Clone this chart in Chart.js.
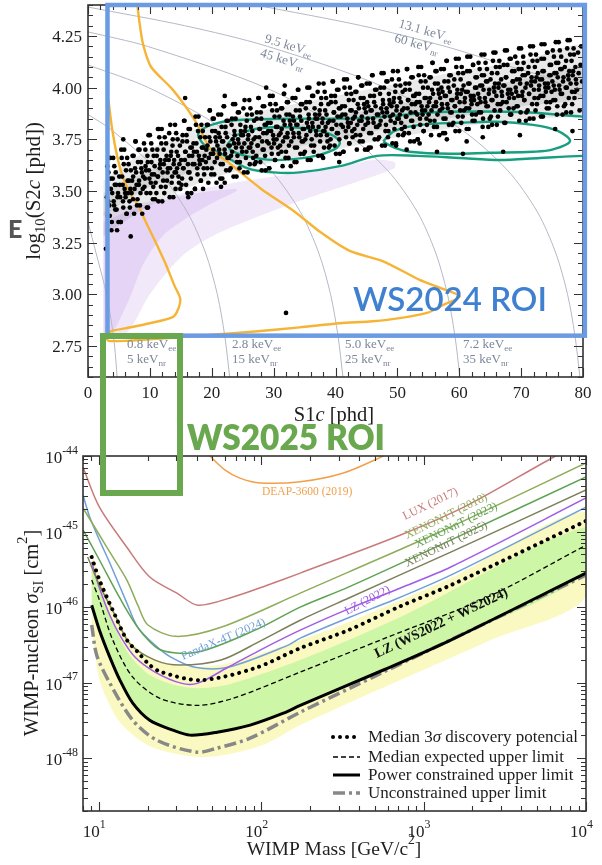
<!DOCTYPE html>
<html>
<head>
<meta charset="utf-8">
<script src="https://cdn.jsdelivr.net/npm/chart.js"></script>
<style>
  html, body { margin: 0; padding: 0; background: #fff; }
  #wrap { position: relative; width: 602px; height: 865px; overflow: hidden; }
  canvas { position: absolute; left: 0; }
  #roi25box { position: absolute; left: 100px; top: 333px; width: 83px; height: 163px;
              border: 6px solid #6aa84f; box-sizing: border-box; }
  .roi { position: absolute; font-family: Lato, "Open Sans", sans-serif; line-height: 1;
         white-space: nowrap; transform-origin: 0 0; }
  #roi24txt { left: 353px; top: 282px; font-size: 33.5px; font-weight: 600; color: #3f80d0; }
  #roi25txt { left: 187px; top: 419px; font-size: 35px; font-weight: 800; color: #6aa84f; }
  #edgeE { position: absolute; left: 8px; top: 216px; font-family: Lato, sans-serif; font-weight: 900;
           font-size: 25px; line-height: 1; color: #555; }
</style>
</head>
<body>
<div id="wrap">
  <canvas id="cTop" width="602" height="430" style="top:0"></canvas>
  <canvas id="cBottom" width="602" height="435" style="top:430px"></canvas>
  <div id="edgeE">E</div>
  <div id="roi25box"></div>
  <div class="roi" id="roi24txt">WS2024 ROI</div>
  <div class="roi" id="roi25txt">WS2025 ROI</div>
</div>
<script>
// ---------------- S1c / log10(S2c) panel ----------------
const s1Ticks = [0, 10, 20, 30, 40, 50, 60, 70, 80];
const logS2Ticks = [2.75, 3.00, 3.25, 3.50, 3.75, 4.00, 4.25];

// search window drawn on the S1c / log10 S2c plane
const roiS1 = [3.15, 80.3];
const roiLogS2 = [2.80, 4.40];

// electron-recoil band (outer and inner contours), upper and lower edges
const erOuterUpper = [[2.5,3.55],[7,3.65],[14,3.76],[21.5,3.84],[30,3.9],[40,3.96],[50,4.02],[60,4.08],[70,4.13],[81,4.2]];
const erOuterLower = [[2.5,3.28],[10,3.43],[20,3.56],[30,3.64],[40,3.70],[50,3.76],[60,3.81],[70,3.85],[81,3.89]];
const erInnerUpper = [[2.5,3.49],[10,3.6],[20,3.71],[30,3.79],[40,3.86],[50,3.92],[60,3.98],[70,4.04],[81,4.1]];
const erInnerLower = [[2.5,3.38],[10,3.52],[20,3.62],[30,3.69],[40,3.75],[50,3.81],[60,3.86],[70,3.91],[81,3.96]];

// nuclear-recoil band (outer and inner)
const nrOuterUpper = [[2.5,3.40],[10,3.45],[20,3.52],[30,3.57],[40,3.61],[46,3.65],[49.5,3.64]];
const nrOuterLower = [[2.5,2.79],[5,2.79],[7,2.84],[10,3.0],[15,3.18],[20,3.28],[27,3.37],[35,3.46],[42,3.53],[49.5,3.61]];
const nrInnerUpper = [[2.5,3.35],[8,3.42],[14,3.47],[20,3.5],[24,3.51]];
const nrInnerLower = [[2.5,2.8],[3.5,2.8],[5,2.87],[7,3.0],[9,3.15],[12,3.28],[16,3.37],[20,3.44],[24,3.5]];

// constant-energy guide lines (S1c, log10 S2c)
const energyLines = {
  e08:  [[4.7,2.6],[4.3,2.75],[3.6,2.9],[2.6,3.05],[1.3,3.2],[0,3.35]],
  e28:  [[22.9,2.6],[22.1,2.8],[20.9,3.0],[19.0,3.2],[16.0,3.4],[11.2,3.6],[3.6,3.8],[0,3.87]],
  e50:  [[41.2,2.6],[40.4,2.8],[39.2,3.0],[37.3,3.2],[34.3,3.4],[29.5,3.6],[21.9,3.8],[9.8,4.0],[0,4.11]],
  e72:  [[60.1,2.6],[59.3,2.8],[58.1,3.0],[56.2,3.2],[53.2,3.4],[48.4,3.6],[40.8,3.8],[28.7,4.0],[9.6,4.2],[0,4.27]],
  e95:  [[79.5,2.6],[78.7,2.8],[77.5,3.0],[75.6,3.2],[72.6,3.4],[67.8,3.6],[60.2,3.8],[48.1,4.0],[29.0,4.2],[15.6,4.3],[0,4.39]],
  e131: [[80.5,3.95],[74,4.05],[68.5,4.1],[57.7,4.2],[44.2,4.3],[27.1,4.4]]
};

// background-model contour (amber)
const amberContour = [[3.3,3.94],[3.9,3.80],[4.7,3.67],[5.6,3.57],[6.8,3.49],[8.1,3.43],[9.5,3.34],[10.8,3.26],[12.5,3.15],[14.0,3.04],[14.9,2.98],[14.6,2.93],[13.7,2.89],[10,2.86],[6,2.835],[3.6,2.82],[3.0,2.79],[3.3,2.775],[6,2.775],[13.7,2.79],[20,2.805],[27,2.82],[34.2,2.84],[40.7,2.86],[46,2.87],[50.4,2.885],[54.8,2.91],[57.5,2.95],[60.1,2.99],[57,3.03],[53.6,3.07],[47.7,3.16],[42.3,3.21],[37.6,3.30],[33.4,3.40],[28,3.51],[22.6,3.64],[19.9,3.70],[18.9,3.75],[17.3,3.84],[15.5,3.92],[13.4,4.0],[10.2,4.10],[8.9,4.21],[8.3,4.32],[7.8,4.45]];

// signal-like contours (teal)
const tealOuter = [[82,3.86],[80,3.86],[71.4,3.88],[63,3.885],[55.3,3.88],[48,3.86],[42,3.85],[32.3,3.85],[25,3.845],[21,3.83],[18.5,3.80],[17.8,3.77],[18.9,3.72],[21.5,3.68],[25.8,3.61],[30,3.59],[34.2,3.59],[40.7,3.62],[46.7,3.67],[53.2,3.67],[60,3.66],[66.6,3.65],[73,3.66],[80,3.67],[82,3.67]];
const tealInnerLeft = [[22.6,3.73],[24,3.77],[27,3.80],[31,3.81],[36,3.80],[39.5,3.77],[40.7,3.73],[39,3.69],[35,3.66],[30,3.65],[25.5,3.67],[23,3.70],[22.6,3.73]];
const tealInnerRight = [[47.7,3.74],[49.5,3.79],[53.6,3.82],[60,3.83],[66,3.835],[71.9,3.82],[76,3.79],[77.9,3.74],[75,3.70],[71.9,3.69],[65,3.685],[58.5,3.68],[52,3.69],[49.5,3.71],[47.7,3.74]];

// observed events (S1c [phd], log10 S2c [phd])
const events = [
[3.05,3.47],[3.2,3.38],[3.3,3.59],[3.45,3.43],[3.6,3.66],[3.7,3.51],[3.85,3.35],[4,3.56],[4.15,3.45],[4.25,3.62],[4.4,3.41],[4.55,3.53],[4.7,3.31],[4.85,3.49],
[5.05,3.57],[5.2,3.47],[5.3,3.35],[5.45,3.66],[5.6,3.53],[5.7,3.42],[5.85,3.7],[6,3.49],[6.15,3.6],[6.25,3.39],[6.4,3.55],[6.55,3.63],[6.7,3.45],[6.85,3.51],
[7.05,3.49],[7.2,3.67],[7.3,3.57],[7.45,3.39],[7.6,3.61],[7.7,3.74],[7.85,3.53],[8,3.46],[8.15,3.7],[8.25,3.55],[8.4,3.43],[8.55,3.64],[8.7,3.59],[8.85,3.51],
[9.05,3.73],[9.2,3.56],[9.3,3.62],[9.45,3.49],[9.6,3.67],[9.7,3.42],[9.85,3.6],[10,3.77],[10.15,3.54],[10.25,3.64],[10.4,3.7],[10.55,3.52],[10.7,3.58],[10.85,3.46],
[11.05,3.49],[11.2,3.7],[11.3,3.57],[11.45,3.8],[11.6,3.61],[11.7,3.65],[11.85,3.73],[12,3.45],[12.15,3.55],[12.25,3.63],[12.4,3.76],[12.55,3.52],[12.7,3.67],[12.85,3.59],
[13.05,3.65],[13.2,3.47],[13.3,3.82],[13.45,3.69],[13.6,3.57],[13.7,3.75],[13.85,3.63],[14,3.59],[14.15,3.51],[14.25,3.78],[14.4,3.61],[14.55,3.67],[14.7,3.54],[14.85,3.72],
[15.05,3.65],[15.2,3.56],[15.3,3.77],[15.45,3.61],[15.6,3.84],[15.7,3.69],[15.85,3.53],[16,3.74],[16.15,3.63],[16.25,3.8],[16.4,3.59],[16.55,3.71],[16.7,3.49],[16.85,3.67],
[17.05,3.73],[17.2,3.63],[17.3,3.51],[17.45,3.82],[17.6,3.69],[17.7,3.58],[17.85,3.86],[18,3.65],[18.15,3.76],[18.25,3.55],[18.4,3.71],[18.55,3.79],[18.7,3.61],[18.85,3.67],
[19.05,3.64],[19.2,3.82],[19.3,3.72],[19.45,3.54],[19.6,3.76],[19.7,3.89],[19.85,3.68],[20,3.61],[20.15,3.85],[20.25,3.7],[20.4,3.58],[20.55,3.79],[20.7,3.74],[20.85,3.66],
[21.05,3.87],[21.2,3.7],[21.3,3.76],[21.45,3.63],[21.6,3.81],[21.7,3.56],[21.85,3.74],[22,3.91],[22.15,3.68],[22.25,3.78],[22.4,3.84],[22.55,3.66],[22.7,3.72],[22.85,3.6],
[23.05,3.61],[23.2,3.82],[23.3,3.69],[23.45,3.92],[23.6,3.73],[23.7,3.77],[23.85,3.85],[24,3.57],[24.15,3.67],[24.25,3.75],[24.4,3.88],[24.55,3.64],[24.7,3.79],[24.85,3.71],
[25.05,3.77],[25.2,3.59],[25.3,3.94],[25.45,3.81],[25.6,3.69],[25.7,3.87],[25.85,3.75],[26,3.71],[26.15,3.63],[26.25,3.9],[26.4,3.73],[26.55,3.79],[26.7,3.66],[26.85,3.84],
[27.05,3.76],[27.2,3.67],[27.3,3.88],[27.45,3.72],[27.6,3.95],[27.7,3.8],[27.85,3.64],[28,3.85],[28.15,3.74],[28.25,3.91],[28.4,3.7],[28.55,3.82],[28.7,3.6],[28.85,3.78],
[29.05,3.83],[29.2,3.73],[29.3,3.61],[29.45,3.92],[29.6,3.79],[29.7,3.68],[29.85,3.96],[30,3.75],[30.15,3.86],[30.25,3.65],[30.4,3.81],[30.55,3.89],[30.7,3.71],[30.85,3.77],
[31.05,3.72],[31.2,3.9],[31.3,3.8],[31.45,3.62],[31.6,3.84],[31.7,3.97],[31.85,3.76],[32,3.69],[32.15,3.93],[32.25,3.78],[32.4,3.66],[32.55,3.87],[32.7,3.82],[32.85,3.74],
[33.05,3.95],[33.2,3.78],[33.3,3.84],[33.45,3.71],[33.6,3.89],[33.7,3.64],[33.85,3.82],[34,3.99],[34.15,3.76],[34.25,3.86],[34.4,3.92],[34.55,3.74],[34.7,3.8],[34.85,3.68],
[35.05,3.69],[35.2,3.9],[35.3,3.77],[35.45,4],[35.6,3.81],[35.7,3.85],[35.85,3.93],[36,3.65],[36.15,3.75],[36.25,3.83],[36.4,3.96],[36.55,3.72],[36.7,3.87],[36.85,3.79],
[37.05,3.85],[37.2,3.67],[37.3,4.02],[37.45,3.89],[37.6,3.77],[37.7,3.95],[37.85,3.83],[38,3.79],[38.15,3.71],[38.25,3.98],[38.4,3.81],[38.55,3.87],[38.7,3.74],[38.85,3.92],
[39.05,3.84],[39.2,3.75],[39.3,3.96],[39.45,3.8],[39.6,4.03],[39.7,3.88],[39.85,3.72],[40,3.93],[40.15,3.82],[40.25,3.99],[40.4,3.78],[40.55,3.9],[40.7,3.68],[40.85,3.86],
[41.05,3.91],[41.2,3.81],[41.3,3.69],[41.45,4],[41.6,3.87],[41.7,3.76],[41.85,4.04],[42,3.83],[42.15,3.94],[42.25,3.73],[42.4,3.89],[42.55,3.97],[42.7,3.79],[42.85,3.85],
[43.05,3.8],[43.2,3.98],[43.3,3.88],[43.45,3.7],[43.6,3.92],[43.7,4.05],[43.85,3.84],[44,3.77],[44.15,4.01],[44.25,3.86],[44.4,3.74],[44.55,3.95],[44.7,3.9],[44.85,3.82],
[45.05,4.02],[45.2,3.85],[45.3,3.91],[45.45,3.78],[45.6,3.96],[45.7,3.71],[45.85,3.89],[46,4.06],[46.15,3.83],[46.25,3.93],[46.4,3.99],[46.55,3.81],[46.7,3.87],[46.85,3.75],
[47.05,3.76],[47.2,3.97],[47.3,3.84],[47.45,4.07],[47.6,3.88],[47.7,3.92],[47.85,4],[48,3.72],[48.15,3.82],[48.25,3.9],[48.4,4.03],[48.55,3.79],[48.7,3.94],[48.85,3.86],
[49.05,3.91],[49.2,3.73],[49.3,4.08],[49.45,3.95],[49.6,3.83],[49.7,4.01],[49.85,3.89],[50,3.85],[50.15,3.77],[50.25,4.04],[50.4,3.87],[50.55,3.93],[50.7,3.8],[50.85,3.98],
[51.05,3.9],[51.2,3.81],[51.3,4.02],[51.45,3.86],[51.6,4.09],[51.7,3.94],[51.85,3.78],[52,3.99],[52.15,3.88],[52.25,4.05],[52.4,3.84],[52.55,3.96],[52.7,3.74],[52.85,3.92],
[53.05,3.97],[53.2,3.87],[53.3,3.75],[53.45,4.06],[53.6,3.93],[53.7,3.82],[53.85,4.1],[54,3.89],[54.15,4],[54.25,3.79],[54.4,3.95],[54.55,4.03],[54.7,3.85],[54.85,3.91],
[55.05,3.87],[55.2,4.05],[55.3,3.95],[55.45,3.77],[55.6,3.99],[55.7,4.12],[55.85,3.91],[56,3.84],[56.15,4.08],[56.25,3.93],[56.4,3.81],[56.55,4.02],[56.7,3.97],[56.85,3.89],
[57.05,4.09],[57.2,3.92],[57.3,3.98],[57.45,3.85],[57.6,4.03],[57.7,3.78],[57.85,3.96],[58,4.13],[58.15,3.9],[58.25,4],[58.4,4.06],[58.55,3.88],[58.7,3.94],[58.85,3.82],
[59.05,3.83],[59.2,4.04],[59.3,3.91],[59.45,4.14],[59.6,3.95],[59.7,3.99],[59.85,4.07],[60,3.79],[60.15,3.89],[60.25,3.97],[60.4,4.1],[60.55,3.86],[60.7,4.01],[60.85,3.93],
[61.05,3.98],[61.2,3.8],[61.3,4.15],[61.45,4.02],[61.6,3.9],[61.7,4.08],[61.85,3.96],[62,3.92],[62.15,3.84],[62.25,4.11],[62.4,3.94],[62.55,4],[62.7,3.87],[62.85,4.05],
[63.05,3.97],[63.2,3.88],[63.3,4.09],[63.45,3.93],[63.6,4.16],[63.7,4.01],[63.85,3.85],[64,4.06],[64.15,3.95],[64.25,4.12],[64.4,3.91],[64.55,4.03],[64.7,3.81],[64.85,3.99],
[65.05,4.04],[65.2,3.94],[65.3,3.82],[65.45,4.13],[65.6,4],[65.7,3.89],[65.85,4.17],[66,3.96],[66.15,4.07],[66.25,3.86],[66.4,4.02],[66.55,4.1],[66.7,3.92],[66.85,3.98],
[67.05,3.93],[67.2,4.11],[67.3,4.01],[67.45,3.83],[67.6,4.05],[67.7,4.18],[67.85,3.97],[68,3.9],[68.15,4.14],[68.25,3.99],[68.4,3.87],[68.55,4.08],[68.7,4.03],[68.85,3.95],
[69.05,4.15],[69.2,3.98],[69.3,4.04],[69.45,3.91],[69.6,4.09],[69.7,3.84],[69.85,4.02],[70,4.19],[70.15,3.96],[70.25,4.06],[70.4,4.12],[70.55,3.94],[70.7,4],[70.85,3.88],
[71.05,3.89],[71.2,4.1],[71.3,3.97],[71.45,4.2],[71.6,4.01],[71.7,4.05],[71.85,4.13],[72,3.85],[72.15,3.95],[72.25,4.03],[72.4,4.16],[72.55,3.92],[72.7,4.07],[72.85,3.99],
[73.05,4.04],[73.2,3.86],[73.3,4.21],[73.45,4.08],[73.6,3.96],[73.7,4.14],[73.85,4.02],[74,3.98],[74.15,3.9],[74.25,4.17],[74.4,4],[74.55,4.06],[74.7,3.93],[74.85,4.11],
[75.05,4.03],[75.2,3.94],[75.3,4.15],[75.45,3.99],[75.6,4.22],[75.7,4.07],[75.85,3.91],[76,4.12],[76.15,4.01],[76.25,4.18],[76.4,3.97],[76.55,4.09],[76.7,3.87],[76.85,4.05],
[77.05,4.1],[77.2,4],[77.3,3.88],[77.45,4.19],[77.6,4.06],[77.7,3.95],[77.85,4.23],[78,4.02],[78.15,4.13],[78.25,3.92],[78.4,4.08],[78.55,4.16],[78.7,3.98],[78.85,4.04],
[79.05,3.99],[79.2,4.17],[79.3,4.07],[79.45,3.89],[79.6,4.11],[79.7,4.2],[79.85,4.03],
[3.12,3.62],[3.27,3.45],[3.38,3.51],[3.52,3.38],[3.66,3.56],[3.78,3.31],[3.92,3.49],[4.07,3.66],[4.22,3.43],[4.33,3.53],[4.48,3.59],[4.62,3.41],[4.77,3.47],[4.92,3.35],
[5.12,3.53],[5.27,3.35],[5.38,3.7],[5.52,3.57],[5.66,3.45],[5.78,3.63],[5.92,3.51],[6.07,3.47],[6.22,3.39],[6.33,3.66],[6.48,3.49],[6.62,3.55],[6.77,3.42],[6.92,3.6],
[7.12,3.55],[7.27,3.46],[7.38,3.67],[7.52,3.51],[7.66,3.74],[7.78,3.59],[7.92,3.43],[8.07,3.64],[8.22,3.53],[8.33,3.7],[8.48,3.49],[8.62,3.61],[8.77,3.39],[8.92,3.57],
[9.12,3.52],[9.27,3.7],[9.38,3.6],[9.52,3.42],[9.66,3.64],[9.78,3.77],[9.92,3.56],[10.07,3.49],[10.22,3.73],[10.33,3.58],[10.48,3.46],[10.62,3.67],[10.77,3.62],[10.92,3.54],
[11.12,3.67],[11.27,3.57],[11.38,3.45],[11.52,3.76],[11.66,3.63],[11.78,3.52],[11.92,3.8],[12.07,3.59],[12.22,3.7],[12.33,3.49],[12.48,3.65],[12.62,3.73],[12.77,3.55],[12.92,3.61],
[13.12,3.78],[13.27,3.61],[13.38,3.67],[13.52,3.54],[13.66,3.72],[13.78,3.47],[13.92,3.65],[14.07,3.82],[14.22,3.59],[14.33,3.69],[14.48,3.75],[14.62,3.57],[14.77,3.63],[14.92,3.51],
[15.12,3.53],[15.27,3.74],[15.38,3.61],[15.52,3.84],[15.66,3.65],[15.78,3.69],[15.92,3.77],[16.07,3.49],[16.22,3.59],[16.33,3.67],[16.48,3.8],[16.62,3.56],[16.77,3.71],[16.92,3.63],
[17.12,3.69],[17.27,3.51],[17.38,3.86],[17.52,3.73],[17.66,3.61],[17.78,3.79],[17.92,3.67],[18.07,3.63],[18.22,3.55],[18.33,3.82],[18.48,3.65],[18.62,3.71],[18.77,3.58],[18.92,3.76],
[19.12,3.7],[19.27,3.61],[19.38,3.82],[19.52,3.66],[19.66,3.89],[19.78,3.74],[19.92,3.58],[20.07,3.79],[20.22,3.68],[20.33,3.85],[20.48,3.64],[20.62,3.76],[20.77,3.54],[20.92,3.72],
[21.12,3.78],[21.27,3.68],[21.38,3.56],[21.52,3.87],[21.66,3.74],[21.78,3.63],[21.92,3.91],[22.07,3.7],[22.22,3.81],[22.33,3.6],[22.48,3.76],[22.62,3.84],[22.77,3.66],[22.92,3.72],
[23.12,3.67],[23.27,3.85],[23.38,3.75],[23.52,3.57],[23.66,3.79],[23.78,3.92],[23.92,3.71],[24.07,3.64],[24.22,3.88],[24.33,3.73],[24.48,3.61],[24.62,3.82],[24.77,3.77],[24.92,3.69],
[25.12,3.9],[25.27,3.73],[25.38,3.79],[25.52,3.66],[25.66,3.84],[25.78,3.59],[25.92,3.77],[26.07,3.94],[26.22,3.71],[26.33,3.81],[26.48,3.87],[26.62,3.69],[26.77,3.75],[26.92,3.63],
[27.12,3.64],[27.27,3.85],[27.38,3.72],[27.52,3.95],[27.66,3.76],[27.78,3.8],[27.92,3.88],[28.07,3.6],[28.22,3.7],[28.33,3.78],[28.48,3.91],[28.62,3.67],[28.77,3.82],[28.92,3.74],
[29.12,3.79],[29.27,3.61],[29.38,3.96],[29.52,3.83],[29.66,3.71],[29.78,3.89],[29.92,3.77],[30.07,3.73],[30.22,3.65],[30.33,3.92],[30.48,3.75],[30.62,3.81],[30.77,3.68],[30.92,3.86],
[31.12,3.78],[31.27,3.69],[31.38,3.9],[31.52,3.74],[31.66,3.97],[31.78,3.82],[31.92,3.66],[32.07,3.87],[32.22,3.76],[32.33,3.93],[32.48,3.72],[32.62,3.84],[32.77,3.62],[32.92,3.8],
[33.12,3.86],[33.27,3.76],[33.38,3.64],[33.52,3.95],[33.66,3.82],[33.78,3.71],[33.92,3.99],[34.07,3.78],[34.22,3.89],[34.33,3.68],[34.48,3.84],[34.62,3.92],[34.77,3.74],[34.92,3.8],
[35.12,3.75],[35.27,3.93],[35.38,3.83],[35.52,3.65],[35.66,3.87],[35.78,4],[35.92,3.79],[36.07,3.72],[36.22,3.96],[36.33,3.81],[36.48,3.69],[36.62,3.9],[36.77,3.85],[36.92,3.77],
[37.12,3.98],[37.27,3.81],[37.38,3.87],[37.52,3.74],[37.66,3.92],[37.78,3.67],[37.92,3.85],[38.07,4.02],[38.22,3.79],[38.33,3.89],[38.48,3.95],[38.62,3.77],[38.77,3.83],[38.92,3.71],
[39.12,3.72],[39.27,3.93],[39.38,3.8],[39.52,4.03],[39.66,3.84],[39.78,3.88],[39.92,3.96],[40.07,3.68],[40.22,3.78],[40.33,3.86],[40.48,3.99],[40.62,3.75],[40.77,3.9],[40.92,3.82],
[41.12,3.87],[41.27,3.69],[41.38,4.04],[41.52,3.91],[41.66,3.79],[41.78,3.97],[41.92,3.85],[42.07,3.81],[42.22,3.73],[42.33,4],[42.48,3.83],[42.62,3.89],[42.77,3.76],[42.92,3.94],
[43.12,3.86],[43.27,3.77],[43.38,3.98],[43.52,3.82],[43.66,4.05],[43.78,3.9],[43.92,3.74],[44.07,3.95],[44.22,3.84],[44.33,4.01],[44.48,3.8],[44.62,3.92],[44.77,3.7],[44.92,3.88],
[45.12,3.93],[45.27,3.83],[45.38,3.71],[45.52,4.02],[45.66,3.89],[45.78,3.78],[45.92,4.06],[46.07,3.85],[46.22,3.96],[46.33,3.75],[46.48,3.91],[46.62,3.99],[46.77,3.81],[46.92,3.87],
[47.12,3.82],[47.27,4],[47.38,3.9],[47.52,3.72],[47.66,3.94],[47.78,4.07],[47.92,3.86],[48.07,3.79],[48.22,4.03],[48.33,3.88],[48.48,3.76],[48.62,3.97],[48.77,3.92],[48.92,3.84],
[49.12,4.04],[49.27,3.87],[49.38,3.93],[49.52,3.8],[49.66,3.98],[49.78,3.73],[49.92,3.91],[50.07,4.08],[50.22,3.85],[50.33,3.95],[50.48,4.01],[50.62,3.83],[50.77,3.89],[50.92,3.77],
[51.12,3.78],[51.27,3.99],[51.38,3.86],[51.52,4.09],[51.66,3.9],[51.78,3.94],[51.92,4.02],[52.07,3.74],[52.22,3.84],[52.33,3.92],[52.48,4.05],[52.62,3.81],[52.77,3.96],[52.92,3.88],
[53.12,3.93],[53.27,3.75],[53.38,4.1],[53.52,3.97],[53.66,3.85],[53.78,4.03],[53.92,3.91],[54.07,3.87],[54.22,3.79],[54.33,4.06],[54.48,3.89],[54.62,3.95],[54.77,3.82],[54.92,4],
[55.12,3.93],[55.27,3.84],[55.38,4.05],[55.52,3.89],[55.66,4.12],[55.78,3.97],[55.92,3.81],[56.07,4.02],[56.22,3.91],[56.33,4.08],[56.48,3.87],[56.62,3.99],[56.77,3.77],[56.92,3.95],
[57.12,4],[57.27,3.9],[57.38,3.78],[57.52,4.09],[57.66,3.96],[57.78,3.85],[57.92,4.13],[58.07,3.92],[58.22,4.03],[58.33,3.82],[58.48,3.98],[58.62,4.06],[58.77,3.88],[58.92,3.94],
[59.12,4.01],[59.27,3.91],[59.38,3.79],[59.52,4.1],[59.66,3.97],[59.78,3.86],[59.92,4.14],[60.07,3.93],[60.22,4.04],[60.33,3.83],[60.48,3.99],[60.62,4.07],[60.77,3.89],[60.92,3.95],
[61.12,3.9],[61.27,4.08],[61.38,3.98],[61.52,3.8],[61.66,4.02],[61.78,4.15],[61.92,3.94],[62.07,3.87],[62.22,4.11],[62.33,3.96],[62.48,3.84],[62.62,4.05],[62.77,4],[62.92,3.92],
[63.12,4.12],[63.27,3.95],[63.38,4.01],[63.52,3.88],[63.66,4.06],[63.78,3.81],[63.92,3.99],[64.07,4.16],[64.22,3.93],[64.33,4.03],[64.48,4.09],[64.62,3.91],[64.77,3.97],[64.92,3.85],
[65.12,3.86],[65.27,4.07],[65.38,3.94],[65.52,4.17],[65.66,3.98],[65.78,4.02],[65.92,4.1],[66.07,3.82],[66.22,3.92],[66.33,4],[66.48,4.13],[66.62,3.89],[66.77,4.04],[66.92,3.96],
[67.12,4.01],[67.27,3.83],[67.38,4.18],[67.52,4.05],[67.66,3.93],[67.78,4.11],[67.92,3.99],[68.07,3.95],[68.22,3.87],[68.33,4.14],[68.48,3.97],[68.62,4.03],[68.77,3.9],[68.92,4.08],
[69.12,4],[69.27,3.91],[69.38,4.12],[69.52,3.96],[69.66,4.19],[69.78,4.04],[69.92,3.88],[70.07,4.09],[70.22,3.98],[70.33,4.15],[70.48,3.94],[70.62,4.06],[70.77,3.84],[70.92,4.02],
[71.12,4.07],[71.27,3.97],[71.38,3.85],[71.52,4.16],[71.66,4.03],[71.78,3.92],[71.92,4.2],[72.07,3.99],[72.22,4.1],[72.33,3.89],[72.48,4.05],[72.62,4.13],[72.77,3.95],[72.92,4.01],
[73.12,3.96],[73.27,4.14],[73.38,4.04],[73.52,3.86],[73.66,4.08],[73.78,4.21],[73.92,4],[74.07,3.93],[74.22,4.17],[74.33,4.02],[74.48,3.9],[74.62,4.11],[74.77,4.06],[74.92,3.98],
[75.12,4.18],[75.27,4.01],[75.38,4.07],[75.52,3.94],[75.66,4.12],[75.78,3.87],[75.92,4.05],[76.07,4.22],[76.22,3.99],[76.33,4.09],[76.48,4.15],[76.62,3.97],[76.77,4.03],[76.92,3.91],
[77.12,3.92],[77.27,4.13],[77.38,4],[77.52,4.23],[77.66,4.04],[77.78,4.08],[77.92,4.16],[78.07,3.88],[78.22,3.98],[78.33,4.06],[78.48,4.19],[78.62,3.95],[78.77,4.1],[78.92,4.02],
[6.9,3.28],[2.9,3.22],[32,2.91],[16.2,3.47],[18.6,3.51],[21.5,3.52],[22.1,3.54],[28.8,4],[31.8,4.01],[22.1,3.96],[15.7,3.95],[11.3,3.8],[5.7,3.75],
[51.5,3.7],[56.4,3.69],[60.6,3.68],[67.1,3.69],[53.6,3.73],[58,3.75],[61.2,3.74],[63.8,3.76],[69.8,3.77],[75.5,3.8],[78.3,3.79],[40.6,3.64],[38,3.66],[45.2,3.7],[49.8,3.72]
];

// ---------------- WIMP exclusion panel ----------------
const massTicks = [10, 100, 1000, 10000];
const massTickExp = ['1', '2', '3', '4'];
const sigmaTicks = [1e-44, 1e-45, 1e-46, 1e-47, 1e-48];
const sigmaTickExp = ['-44', '-45', '-46', '-47', '-48'];

// (WIMP mass [GeV/c^2], cross section [cm^2])
const deap2019 = [[45,1.2e-44],[48.4,1.0e-44],[60,6.5e-45],[74,5.1e-45],[98.6,4.4e-45],[174,4.55e-45],[321,5.95e-45],[566,1.0e-44],[700,1.25e-44]];
const lux2017 = [[8,7.1e-45],[10.1,2.1e-45],[14.9,6.2e-46],[20.6,2.5e-46],[30.3,1.53e-46],[40.8,1.06e-46],[67.1,1.36e-46],[109,1.95e-46],[174,2.82e-46],[721,9.0e-46],[1871,2.24e-45],[6340,9.7e-45],[10000,1.58e-44]];
const xenon1t2018 = [[8,2.05e-45],[10.1,9.0e-46],[11.7,5.35e-46],[14.9,2.28e-46],[17.4,1.06e-46],[20.1,5.8e-47],[29.9,4.1e-47],[56.6,5.4e-47],[174,1.53e-46],[344,2.9e-46],[1469,1.15e-45],[10000,8.1e-45]];
const xenonnt2023 = [[8,1.05e-45],[10.1,4.2e-46],[13.5,1.31e-46],[17.9,4.95e-47],[24.2,2.7e-47],[40.8,2.54e-47],[91.8,4.95e-47],[174,1.0e-46],[344,1.84e-46],[1469,7.7e-46],[10000,5.3e-45]];
const xenonnt2025 = [[8.55,4.6e-46],[10.1,1.95e-46],[12.6,7.8e-47],[15.5,3.3e-47],[22.2,1.99e-47],[31.6,1.71e-47],[56.6,1.99e-47],[98.6,3.55e-47],[174,6.7e-47],[344,1.31e-46],[1469,5.35e-46],[10000,3.55e-45]];
const lz2022 = [[9.05,3.95e-46],[10.1,1.79e-46],[11.7,7.8e-47],[13.7,4.0e-47],[16.7,2.18e-47],[22.2,1.38e-47],[32.1,9.85e-48],[40.8,9.85e-48],[62.5,1.6e-47],[98.6,2.7e-47],[174,4.95e-47],[354,9.7e-47],[721,1.79e-46],[1469,3.39e-46],[10000,2.78e-45]];
const pandax2024 = [[8,3.04e-45],[8.8,1.56e-45],[10.1,7.7e-46],[11.7,3.83e-46],[14.9,1.13e-46],[17.4,5.4e-47],[22.2,3.14e-47],[27.8,2.18e-47],[39.1,1.6e-47],[62.5,1.6e-47],[147,3.14e-47],[174,3.88e-47],[354,7.4e-47],[653,1.24e-46],[1469,2.65e-46],[10000,2.11e-45]];

const discovery3sigma = [[9.05,4.6e-46],[10.1,2.28e-46],[12.6,7.8e-47],[14.9,3.66e-47],[17.4,2.54e-47],[20.6,1.71e-47],[24.2,1.38e-47],[42.6,1.08e-47],[91.8,1.56e-47],[174,2.86e-47],[344,4.95e-47],[721,1.03e-46],[1469,1.95e-46],[10000,1.38e-45]];
const medianExpected = [[9.05,2.28e-46],[10.1,1.24e-46],[12.2,3.66e-47],[16.2,1.18e-47],[23.8,6.2e-48],[40.3,5.0e-48],[67.1,6.2e-48],[174,1.38e-47],[566,3.8e-47],[2485,1.36e-46],[10000,6.6e-46]];
const powerConstrained = [[9.05,1.06e-46],[10.1,4.95e-47],[11.7,2.18e-47],[13.5,1.08e-47],[16.2,5.35e-48],[20.6,3.18e-48],[28.6,2.35e-48],[36.5,2.02e-48],[53.5,2.21e-48],[85.5,2.74e-48],[137,3.94e-48],[174,5.0e-48],[566,1.47e-47],[1469,3.66e-47],[10000,2.82e-46]];
const unconstrained = [[9.05,5.8e-47],[9.72,2.31e-47],[11.7,9.85e-48],[16.2,3.18e-48],[22.8,1.73e-48],[40.3,1.2e-48],[53.5,1.36e-48],[85.5,1.84e-48],[174,4.06e-48],[566,1.38e-47],[10000,2.65e-46]];

const band2Upper = [[9.05,5.2e-46],[10.1,2.65e-46],[12.6,8.6e-47],[15.5,3.66e-47],[20.6,2.18e-47],[29.4,1.71e-47],[42,1.6e-47],[67.1,1.87e-47],[174,3.66e-47],[344,6.3e-47],[1469,2.42e-46],[10000,1.81e-45]];
const band2Lower = [[9.05,4.95e-47],[10.1,1.08e-47],[11.7,5.0e-48],[13.5,3.0e-48],[17.9,1.73e-48],[23.8,1.28e-48],[42,1.03e-48],[67.1,1.16e-48],[109,1.58e-48],[174,2.74e-48],[2594,3.66e-47],[10000,1.36e-46]];
const band1Upper = [[9.05,3.6e-46],[10.1,1.68e-46],[12.6,5.3e-47],[15.5,2.31e-47],[20.6,1.26e-47],[29.4,9.3e-48],[42,8.45e-48],[67.1,9.85e-48],[174,1.99e-47],[721,7.4e-47],[10000,1.15e-45]];

// ---------------- helpers ----------------
const SERIF = '"Liberation Serif", "DejaVu Serif", serif';
const pts = arr => arr.map(([x, y]) => ({ x, y }));

function curve(data, color, width, extra) {
  return Object.assign({ data: pts(data), borderColor: color, borderWidth: width, pointRadius: 0,
    fill: false, tension: 0.3, order: 2 }, extra || {});
}
function area(upper, lower, color, order) {
  return { data: pts(upper.concat(lower.slice().reverse())), backgroundColor: color, borderWidth: 0,
    pointRadius: 0, fill: 'shape', tension: 0.3, order };
}

// text made of pieces: flags i = italic, b = bold, _ = subscript, ^ = superscript
function drawRich(ctx, parts, x, y, o) {
  const size = o.size;
  const fontOf = f => `${f.includes('i') ? 'italic ' : ''}${f.includes('b') ? 'bold ' : ''}${(f.includes('_') || f.includes('^')) ? size * 0.7 : size}px ${SERIF}`;
  ctx.save();
  ctx.translate(x, y);
  ctx.rotate(o.rot || 0);
  ctx.fillStyle = o.color || '#1e1e1e';
  ctx.textBaseline = 'alphabetic';
  ctx.textAlign = 'left';
  const ws = parts.map(([t, f = '']) => { ctx.font = fontOf(f); return ctx.measureText(t).width; });
  const total = ws.reduce((s, w) => s + w, 0);
  let cx = o.align === 'center' ? -total / 2 : o.align === 'right' ? -total : 0;
  parts.forEach(([t, f = ''], i) => {
    ctx.font = fontOf(f);
    const dy = f.includes('_') ? size * 0.24 : f.includes('^') ? -size * 0.55 : 0;
    ctx.fillText(t, cx, dy);
    cx += ws[i];
  });
  ctx.restore();
}

function drawFrame(chart, xt, yt) {
  const { ctx, chartArea: a, scales: { x, y } } = chart;
  ctx.save();
  ctx.strokeStyle = '#333';
  ctx.lineWidth = 1.1;
  ctx.beginPath();
  const seg = (x1, y1, x2, y2) => { ctx.moveTo(x1, y1); ctx.lineTo(x2, y2); };
  [[xt.major, 9], [xt.minor, 5]].forEach(([vals, len]) => vals.forEach(v => {
    const p = Math.round(x.getPixelForValue(v)) + 0.5;
    seg(p, a.bottom, p, a.bottom - len); seg(p, a.top, p, a.top + len);
  }));
  [[yt.major, 9], [yt.minor, 5]].forEach(([vals, len]) => vals.forEach(v => {
    const p = Math.round(y.getPixelForValue(v)) + 0.5;
    seg(a.left, p, a.left + len, p); seg(a.right, p, a.right - len, p);
  }));
  ctx.stroke();
  ctx.lineWidth = 1.6;
  ctx.strokeRect(a.left, a.top, a.right - a.left, a.bottom - a.top);
  ctx.restore();
}

// ---------------- top panel ----------------
const s1Minor = [];
for (let v = 0; v <= 80; v += 2) if (v % 10) s1Minor.push(v);
const logS2Minor = [];
for (let k = 52; k <= 88; k++) if (k % 5) logS2Minor.push(k * 0.05);

const energyLabels = [
  { e: '0.8', nr: '5',  x: 127, y: 348, rot: 0 },
  { e: '2.8', nr: '15', x: 232, y: 348, rot: 0 },
  { e: '5.0', nr: '25', x: 345, y: 348, rot: 0 },
  { e: '7.2', nr: '35', x: 463, y: 348, rot: 0 },
  { e: '9.5', nr: '45', x: 264, y: 42, rot: 17 },
  { e: '13.1', nr: '60', x: 398, y: 27, rot: 16 }
];

const topDecor = {
  id: 'topDecor',
  afterDraw(chart) {
    const { ctx, scales: { x, y } } = chart;
    drawFrame(chart, { major: s1Ticks, minor: s1Minor }, { major: logS2Ticks, minor: logS2Minor });
    s1Ticks.forEach(v => drawRich(ctx, [[String(v)]], x.getPixelForValue(v), 398, { size: 17, align: 'center' }));
    logS2Ticks.forEach(v => drawRich(ctx, [[v.toFixed(2)]], 82, y.getPixelForValue(v) + 6, { size: 17, align: 'right' }));
    // energy labels
    energyLabels.forEach(l => {
      const r = l.rot * Math.PI / 180;
      drawRich(ctx, [[l.e + ' keV'], ['ee', '_']], l.x, l.y, { size: 13, color: '#7c879a', rot: r });
      const dx = -15 * Math.sin(r), dy = 15 * Math.cos(r);
      drawRich(ctx, [[l.nr + ' keV'], ['nr', '_']], l.x + dx, l.y + dy, { size: 13, color: '#7c879a', rot: r });
    });
    // axis titles
    drawRich(ctx, [['S1'], ['c', 'i'], [' [phd]']], 334, 421, { size: 20.5, align: 'center' });
    drawRich(ctx, [['log'], ['10', '_'], ['(S2'], ['c', 'i'], [' [phd])']], 40, 191, { size: 21, align: 'center', rot: -Math.PI / 2 });
    // search window outline
    const l = x.getPixelForValue(roiS1[0]), r = x.getPixelForValue(roiS1[1]);
    const t = y.getPixelForValue(roiLogS2[1]), b = y.getPixelForValue(roiLogS2[0]);
    ctx.save();
    ctx.strokeStyle = '#6b9be2';
    ctx.lineWidth = 4.5;
    ctx.strokeRect(l, t, r - l, b - t);
    ctx.restore();
  }
};

new Chart(document.getElementById('cTop'), {
  type: 'line',
  data: {
    datasets: [
      { data: pts(events), showLine: false, pointRadius: 2.35, pointBackgroundColor: '#000', pointBorderWidth: 0, order: 0 },
      curve(amberContour, '#f6b436', 2.4, { order: 1, tension: 0.25 }),
      curve(tealOuter, '#179f80', 2.4, { order: 1, tension: 0.3 }),
      curve(tealInnerLeft, '#179f80', 2.4, { order: 1, tension: 0.35 }),
      curve(tealInnerRight, '#179f80', 2.4, { order: 1, tension: 0.35 }),
      ...Object.values(energyLines).map(d => curve(d, '#b5b9c5', 1, { order: 2 })),
      area(erInnerUpper, erInnerLower, 'rgba(0,0,0,0.085)', 3),
      area(erOuterUpper, erOuterLower, 'rgba(0,0,0,0.085)', 4),
      area(nrInnerUpper, nrInnerLower, 'rgba(160,100,220,0.15)', 5),
      area(nrOuterUpper, nrOuterLower, 'rgba(160,100,220,0.15)', 6)
    ]
  },
  options: {
    responsive: false, animation: false, devicePixelRatio: 1,
    layout: { padding: { left: 88, right: 19, top: 5, bottom: 53 } },
    scales: {
      x: { type: 'linear', min: 0, max: 80, display: false },
      y: { type: 'linear', min: 2.6, max: 4.4, display: false }
    },
    plugins: { legend: { display: false }, tooltip: { enabled: false } }
  },
  plugins: [topDecor]
});

// ---------------- bottom panel ----------------
const massMinor = [];
[1, 10, 100, 1000].forEach(d => { for (let k = 2; k <= 9; k++) if (k * d >= 8) massMinor.push(k * d); });
const sigmaMinor = [];
[-49, -48, -47, -46, -45].forEach(e => { for (let k = 2; k <= 9; k++) sigmaMinor.push(k * Math.pow(10, e)); });

const curveLabels = [
  { t: 'DEAP-3600 (2019)', x: 262, y: 495, rot: 0, color: '#f0a04b', size: 11.5 },
  { t: 'LUX (2017)', x: 405, y: 520, rot: -26, color: '#c97a7a', size: 12 },
  { t: 'XENON1T (2018)', x: 407, y: 539, rot: -26, color: '#8fac5a', size: 12 },
  { t: 'XENONnT (2023)', x: 417, y: 548, rot: -26, color: '#5fa352', size: 12 },
  { t: 'XENONnT (2025)', x: 407, y: 567, rot: -26, color: '#7d7f5a', size: 12 },
  { t: 'LZ (2022)', x: 347, y: 615, rot: -28, color: '#a05ce6', size: 12 },
  { t: 'PandaX-4T (2024)', x: 183, y: 660, rot: -23, color: '#70a0d8', size: 12 }
];

const legendRows = [
  { parts: [['Median 3'], ['σ', 'i'], [' discovery potencial']], color: '#000', width: 4, dash: [0.01, 7], cap: 'round' },
  { parts: [['Median expected upper limit']], color: '#000', width: 1.3, dash: [5, 3], cap: 'butt' },
  { parts: [['Power constrained upper limit']], color: '#000', width: 3, dash: [], cap: 'butt' },
  { parts: [['Unconstrained upper limit']], color: '#888', width: 3.5, dash: [12, 4, 3, 4], cap: 'butt' }
];

const OFF = 430;
const bottomDecor = {
  id: 'bottomDecor',
  afterDraw(chart) {
    const { ctx, scales: { x, y } } = chart;
    drawFrame(chart, { major: massTicks, minor: massMinor }, { major: sigmaTicks, minor: sigmaMinor });
    massTicks.forEach((v, i) => {
      const p = x.getPixelForValue(v);
      drawRich(ctx, [['10']], p + 1, 837 - OFF, { size: 17, align: 'right' });
      drawRich(ctx, [[massTickExp[i], '^']], p + 1, 837 - OFF, { size: 17 });
    });
    sigmaTicks.forEach((v, i) => {
      drawRich(ctx, [['10'], [sigmaTickExp[i], '^']], 78, y.getPixelForValue(v) + 7, { size: 17, align: 'right' });
    });
    curveLabels.forEach(l => drawRich(ctx, [[l.t]], l.x, l.y - OFF, { size: l.size, color: l.color, rot: l.rot * Math.PI / 180 }));
    drawRich(ctx, [['LZ (WS2022 + WS2024)', 'b']], 377, 658 - OFF, { size: 14, color: '#111', rot: -25.5 * Math.PI / 180 });
    // legend
    legendRows.forEach((r, i) => {
      const yy = [737, 757, 775, 793][i] - OFF;
      ctx.save();
      ctx.strokeStyle = r.color; ctx.lineWidth = r.width; ctx.setLineDash(r.dash); ctx.lineCap = r.cap;
      ctx.beginPath(); ctx.moveTo(333, yy); ctx.lineTo(360, yy); ctx.stroke();
      ctx.restore();
      drawRich(ctx, r.parts, 368, yy + 5, { size: 17 });
    });
    drawRich(ctx, [['WIMP Mass [GeV/c'], ['2', '^'], [']']], 334, 855 - OFF, { size: 19.5, align: 'center' });
    drawRich(ctx, [['WIMP-nucleon '], ['σ', 'i'], ['SI', '_'], [' [cm'], ['2', '^'], [']']], 38, 633 - OFF, { size: 20.5, align: 'center', rot: -Math.PI / 2 });
  }
};

new Chart(document.getElementById('cBottom'), {
  type: 'line',
  data: {
    datasets: [
      curve(discovery3sigma, '#000', 4, { order: 0, borderDash: [0.01, 7], borderCapStyle: 'round' }),
      curve(powerConstrained, '#000', 3, { order: 0 }),
      curve(medianExpected, '#000', 1.3, { order: 0, borderDash: [5, 3] }),
      curve(unconstrained, '#888', 3.5, { order: 1, borderDash: [12, 4, 3, 4] }),
      curve(deap2019, '#f0a04b', 1.5),
      curve(lux2017, '#c97a7a', 1.5),
      curve(xenon1t2018, '#8fac5a', 1.5),
      curve(xenonnt2023, '#5fa352', 1.5),
      curve(xenonnt2025, '#7d7f5a', 1.5),
      curve(lz2022, '#a05ce6', 1.5),
      curve(pandax2024, '#70a0d8', 1.5),
      area(band1Upper, powerConstrained, '#cdf6a6', 8),
      area(band2Upper, band2Lower, '#fbf9c2', 9)
    ]
  },
  options: {
    responsive: false, animation: false, devicePixelRatio: 1,
    layout: { padding: { left: 83, right: 16, top: 26, bottom: 54 } },
    scales: {
      x: { type: 'logarithmic', min: 8, max: 10000, display: false },
      y: { type: 'logarithmic', min: 2e-49, max: 1e-44, display: false }
    },
    plugins: { legend: { display: false }, tooltip: { enabled: false } }
  },
  plugins: [bottomDecor]
});

// stretch the two region captions to their drawn widths
[['roi24txt', 194], ['roi25txt', 198]].forEach(([id, w]) => {
  const el = document.getElementById(id);
  el.style.transform = `scaleX(${w / el.getBoundingClientRect().width})`;
});
</script>
</body>
</html>
